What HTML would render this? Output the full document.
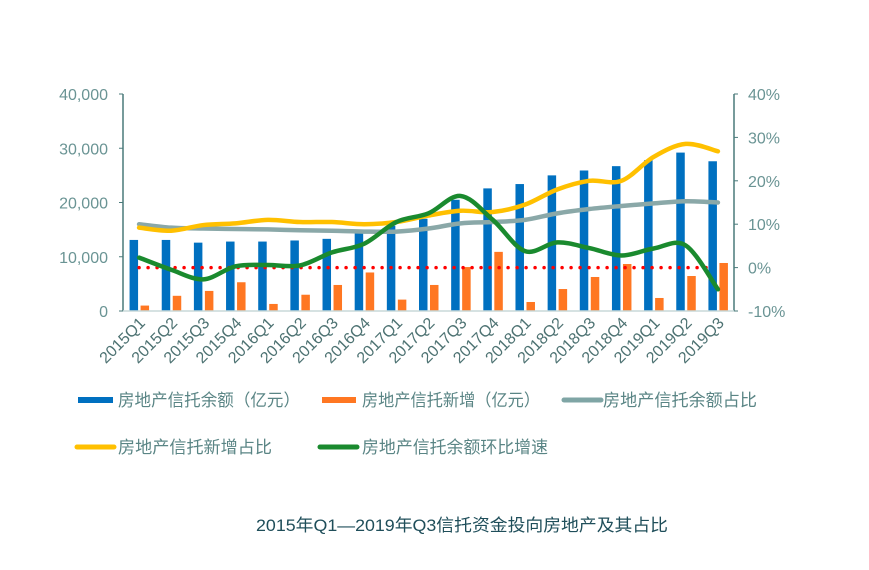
<!DOCTYPE html>
<html><head><meta charset="utf-8">
<style>
body{margin:0;background:#fff;}
svg text{font-family:"Liberation Sans","Noto Sans CJK SC",sans-serif;}
</style></head>
<body>
<svg id="chart" width="869" height="565" xmlns="http://www.w3.org/2000/svg">
<g id="grid"></g>
<g id="legend">
 <g><rect x="78" y="397" width="35" height="6" fill="#0070c0"/><text x="118" y="406" font-size="17" fill="#5a8585" textLength="182" lengthAdjust="spacingAndGlyphs">房地产信托余额（亿元）</text></g>
 <g><rect x="322" y="397" width="34" height="6" fill="#ff7722"/><text x="362" y="406" font-size="17" fill="#5a8585" textLength="178" lengthAdjust="spacingAndGlyphs">房地产信托新增（亿元）</text></g>
 <g><line x1="564" y1="400" x2="601" y2="400" stroke="#7fa5a5" stroke-width="5" stroke-linecap="round"/><text x="603" y="406" font-size="17" fill="#5a8585" textLength="154" lengthAdjust="spacingAndGlyphs">房地产信托余额占比</text></g>
 <g><line x1="77" y1="447" x2="114" y2="447" stroke="#ffc000" stroke-width="5" stroke-linecap="round"/><text x="118" y="453" font-size="17" fill="#5a8585" textLength="154" lengthAdjust="spacingAndGlyphs">房地产信托新增占比</text></g>
 <g><line x1="320" y1="447" x2="357" y2="447" stroke="#1a8a2e" stroke-width="5" stroke-linecap="round"/><text x="362" y="453" font-size="17" fill="#5a8585" textLength="186" lengthAdjust="spacingAndGlyphs">房地产信托余额环比增速</text></g>
</g>
<text x="256" y="531" font-size="17" fill="#1f4e5a" textLength="412" lengthAdjust="spacingAndGlyphs">2015年Q1—2019年Q3信托资金投向房地产及其占比</text>
</svg>
<script>
const categories=["2015Q1","2015Q2","2015Q3","2015Q4","2016Q1","2016Q2","2016Q3","2016Q4","2017Q1","2017Q2","2017Q3","2017Q4","2018Q1","2018Q2","2018Q3","2018Q4","2019Q1","2019Q2","2019Q3"];
const balance=[13100,13100,12600,12800,12800,13000,13300,14300,15700,17000,20500,22600,23400,25000,25900,26700,27800,29200,27600];
const newAdded=[1000,2800,3700,5300,1300,3000,4800,7100,2100,4800,8100,10900,1660,4050,6270,8660,2400,6450,8850];
const balanceShare=[10,9.2,9.0,8.9,8.8,8.6,8.5,8.3,8.3,9.0,10.2,10.5,11,12.5,13.5,14.2,14.8,15.3,15];
const newShare=[9.2,8.5,9.8,10.2,11,10.5,10.5,10,10.5,12,13.1,12.8,14.5,18,20,20,25.5,28.5,26.8];
const growth=[2.3,-0.5,-2.7,0.3,0.6,0.5,3.5,5.5,10.5,12.5,16.5,11,3.8,5.8,4.5,2.8,4.4,5.1,-5];
const leftTicks=[0,10000,20000,30000,40000];
const rightTicks=[-10,0,10,20,30,40];

const NS="http://www.w3.org/2000/svg";
const g=document.getElementById('grid');
const X0=123,X1=734,YT=94,YB=311;
const step=(X1-X0)/categories.length;
const xc=i=>X0+step*(i+0.5);
const yL=v=>YB-(v/40000)*(YB-YT);
const yR=v=>YB-((v+10)/50)*(YB-YT);
function el(tag,attrs){const e=document.createElementNS(NS,tag);for(const k in attrs)e.setAttribute(k,attrs[k]);g.appendChild(e);return e;}

let a=el('line',{x1:X0,y1:YT,x2:X0,y2:YB,stroke:'#4a7a7a','stroke-width':1.5});

a=el('line',{x1:X1,y1:YT,x2:X1,y2:YB,stroke:'#4a7a7a','stroke-width':1.5});

leftTicks.forEach(t=>{
  el('line',{x1:X0-4,y1:yL(t),x2:X0,y2:yL(t),stroke:'#4a7a7a'});
  const tx=el('text',{x:X0-15,y:yL(t)+6,'font-size':16,fill:'#6a9494','text-anchor':'end'});
  tx.textContent=t.toLocaleString('en-US');
  
  
});
rightTicks.forEach(t=>{
  el('line',{x1:X1,y1:yR(t),x2:X1+4,y2:yR(t),stroke:'#4a7a7a'});
  const tx=el('text',{x:X1+14,y:yR(t)+6,'font-size':16,fill:'#6a9494'});
  tx.textContent=t+'%';
  
  
});
const bw=8.5;
categories.forEach((c,i)=>{
  const b=el('rect',{x:xc(i)-bw-1,y:yL(balance[i]),width:bw,height:YB-yL(balance[i]),fill:'#0070c0'});
  
  
  const o=el('rect',{x:xc(i)+1.5,y:yL(newAdded[i]),width:bw,height:YB-yL(newAdded[i]),fill:'#ff7722'});
  
  
  const t=el('text',{x:0,y:0,'font-size':16,fill:'#4d7272','text-anchor':'end',transform:`translate(${xc(i)+7},${YB+13}) rotate(-45)`});
  t.textContent=c;
  
  
});
el('line',{x1:X0,y1:YB,x2:X1,y2:YB,stroke:'#c8d8d8','stroke-width':1.5});
const z=el('line',{x1:xc(0),y1:yR(0),x2:xc(18)-4,y2:yR(0),stroke:'#ff0000','stroke-width':3.5,'stroke-dasharray':'0 9','stroke-linecap':'round'});


function smooth(vals){
  const p=vals.map((v,i)=>[xc(i),yR(v)]);
  let d=`M${p[0][0]},${p[0][1]}`;
  for(let i=0;i<p.length-1;i++){
    const p0=p[i-1]||p[i],p1=p[i],p2=p[i+1],p3=p[i+2]||p2;
    const c1=[p1[0]+(p2[0]-p0[0])/6,p1[1]+(p2[1]-p0[1])/6];
    const c2=[p2[0]-(p3[0]-p1[0])/6,p2[1]-(p3[1]-p1[1])/6];
    d+=` C${c1[0]},${c1[1]} ${c2[0]},${c2[1]} ${p2[0]},${p2[1]}`;
  }
  return d;
}
let l=el('path',{d:smooth(balanceShare),fill:'none',stroke:'#8aa8a8','stroke-width':4.5,'stroke-linecap':'round'});

l=el('path',{d:smooth(newShare),fill:'none',stroke:'#ffc000','stroke-width':4.5,'stroke-linecap':'round'});

l=el('path',{d:smooth(growth),fill:'none',stroke:'#1a8a2e','stroke-width':4.5,'stroke-linecap':'round'});

</script>
</body></html>
